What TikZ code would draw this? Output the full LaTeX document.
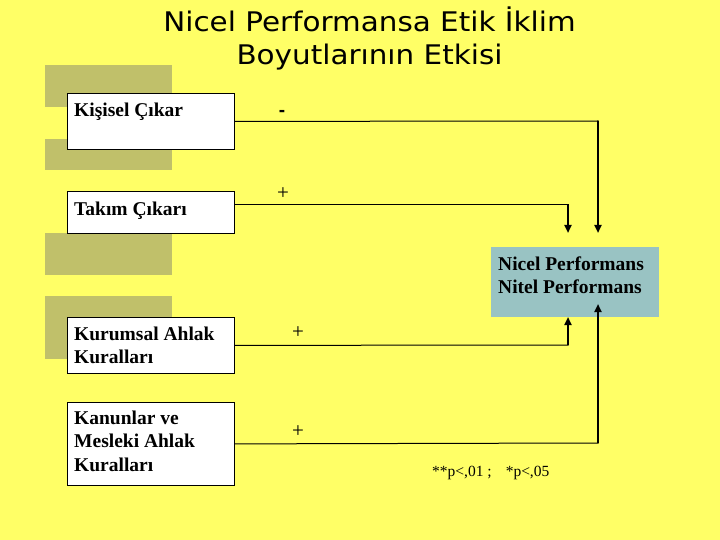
\documentclass[tikz,border=0pt]{standalone}
\usepackage{fontspec}
\setmainfont{Liberation Serif}
\newfontfamily\titlefont[FakeStretch=1.09]{DejaVu Sans}
\newfontfamily\signfont{Liberation Sans}
\usetikzlibrary{arrows.meta}
\definecolor{bgyellow}{HTML}{FFFF66}
\definecolor{shadecol}{HTML}{C0C06A}
\definecolor{tealbox}{HTML}{99C3C3}
\begin{document}
\begin{tikzpicture}[x=1pt,y=-1pt,
  factor/.style={draw=black, fill=white, line width=0.8pt, anchor=north west,
    inner sep=0pt, minimum width=167pt},
  lbl/.style={font=\fontsize{19.5}{23.5}\selectfont\bfseries, anchor=base west, inner sep=0pt},
  ttl/.style={font=\titlefont\fontsize{27}{34}\selectfont, anchor=base, inner sep=0pt},
  sign/.style={font=\fontsize{21}{21}\selectfont, inner sep=0pt},
  link/.style={line width=1pt},
  arr/.style={line width=2pt, -{Triangle[length=8pt,width=7pt]}}]
\fill[bgyellow] (0,0) rectangle (720,540);
\useasboundingbox (0,0) rectangle (720,540);
% title
\node[ttl] (t1) at (369.5,32) {Nicel Performansa Etik İklim};
\node[ttl] (t2) at (369.5,65) {Boyutlarının Etkisi};
% decorative shaded blocks
\fill[shadecol] (45,65) rectangle (172,107);
\fill[shadecol] (45,139) rectangle (172,170);
\fill[shadecol] (45,233) rectangle (172,275);
\fill[shadecol] (45,296) rectangle (172,359);
% factor boxes
\node[factor, minimum height=56pt] (kis) at (67,93) {};
\node[factor, minimum height=42pt] (tak) at (67,191) {};
\node[factor, minimum height=56pt] (kur) at (67,317) {};
\node[factor, minimum height=83pt] (kan) at (67,402) {};
\node[lbl] (kisT) at (74,117) {Kişisel Çıkar};
\node[lbl] (takT) at (74,215) {Takım Çıkarı};
\node[lbl] (kurT1) at (74,340) {Kurumsal Ahlak};
\node[lbl] (kurT2) at (74,363.5) {Kuralları};
\node[lbl] (kanT1) at (74,424) {Kanunlar ve};
\node[lbl] (kanT2) at (74,447.5) {Mesleki Ahlak};
\node[lbl] (kanT3) at (74,471) {Kuralları};
% outcome box
\node[fill=tealbox, anchor=north west, inner sep=0pt, minimum width=168pt, minimum height=70pt] (perf) at (491,247) {};
\node[lbl] (perfT1) at (498,270) {Nicel Performans};
\node[lbl] (perfT2) at (498,293.5) {Nitel Performans};
% bends and arrow tips
\coordinate (b1) at (598,121);
\coordinate (e1) at (598,233);
\coordinate (b2) at (568,205);
\coordinate (e2) at (568,233);
\coordinate (b3) at (568,345);
\coordinate (e3) at (568,317);
\coordinate (b4) at (598,443);
\coordinate (e4) at (598,304);
\draw[link] (kis.east) -- ([xshift=0.5pt]b1);
\draw[arr] (b1) -- (e1);
\draw[link] ([yshift=-14pt]tak.north east) -- ([xshift=0.5pt]b2);
\draw[arr] (b2) -- (e2);
\draw[link] (kur.east) -- ([xshift=0.5pt]b3);
\draw[arr] (b3) -- (e3);
\draw[link] (kan.east) -- ([xshift=0.5pt]b4);
\draw[arr] (b4) -- (e4);
% signs
\node[sign, font=\signfont\fontsize{19}{19}\selectfont\bfseries] (s1) at (282,113) {-};
\node[sign] (s2) at (283,194) {+};
\node[sign] (s3) at (298,333) {+};
\node[sign] (s4) at (298,432) {+};
% note
\node[anchor=base west, inner sep=0pt, font=\fontsize{15.5}{18}\selectfont] (note) at (432,476) {**p<,01 ;\hspace{14pt}*p<,05};
\end{tikzpicture}
\end{document}
